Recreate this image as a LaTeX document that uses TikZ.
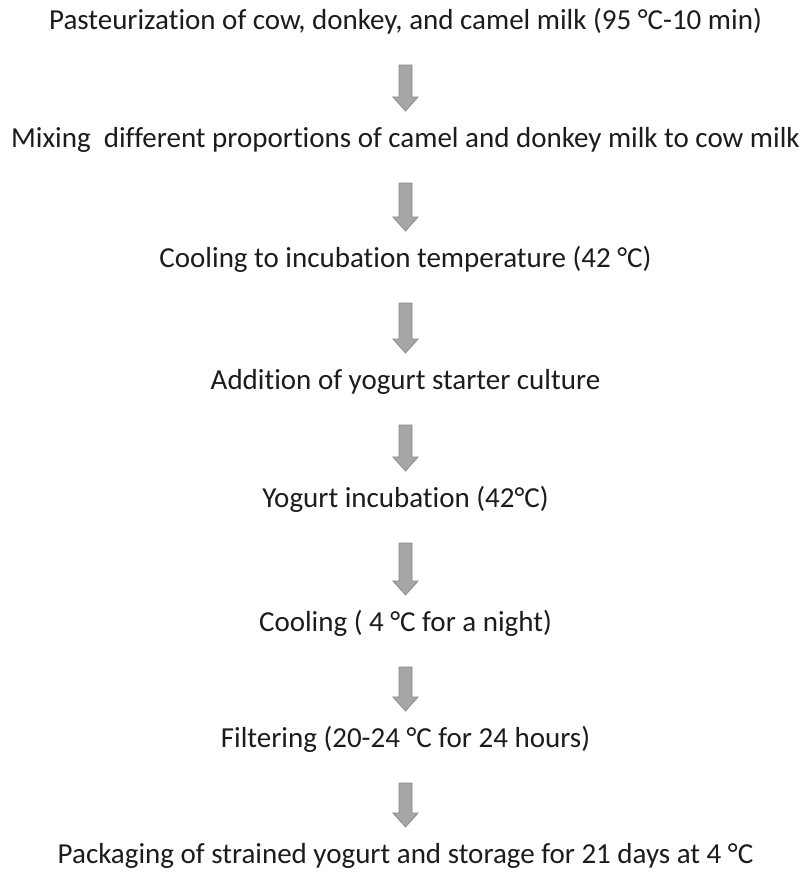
\documentclass[tikz,border=0pt]{standalone}
\usepackage{fontspec}
\setmainfont[RawFeature={-liga;-dlig;-clig}]{Carlito}
\usetikzlibrary{calc}
\definecolor{txt}{HTML}{1C1C1C}
\definecolor{arrfill}{HTML}{A6A6A6}
\definecolor{arrline}{HTML}{8A8A8A}
\tikzset{
  steptext/.style={font=\fontsize{29pt}{33pt}\selectfont, text=txt, inner sep=0pt,
    text height=0.72em, text depth=0.22em, anchor=center},
  fatarrow/.style={fill=arrfill, draw=arrline, line width=0.8pt, line join=miter,
    to path={let \p1=(\tikztostart.center), \p2=(\tikztotarget.center) in
      (\x1-6.5pt,\y1-38pt) -- (\x1+6.5pt,\y1-38pt) -- (\x1+6.5pt,\y2+48pt)
      -- (\x1+12.5pt,\y2+48pt) -- (\x1,\y2+34pt) -- (\x1-12.5pt,\y2+48pt)
      -- (\x1-6.5pt,\y2+48pt) -- cycle}}
}
\begin{document}
\begin{tikzpicture}[x=1pt,y=1pt]
\useasboundingbox (0,0) rectangle (811,-873);
\fill[white] (0,0) rectangle (811,-873);
\node[steptext] (t1) at (405.5,-27) {Pasteurization of cow, donkey, and camel milk (95 °C-10 min)};
\node[steptext] (t2) at (405.5,-145) {Mixing\ \ different proportions of camel and donkey milk to cow milk};
\node[steptext] (t3) at (405.5,-265) {Cooling to incubation temperature (42 °C)};
\node[steptext] (t4) at (405.5,-387) {Addition of yogurt starter culture};
\node[steptext] (t5) at (405.5,-505) {Yogurt incubation (42°C)};
\node[steptext] (t6) at (405.5,-629) {Cooling ( 4 °C for a night)};
\node[steptext] (t7) at (405.5,-745) {Filtering (20-24 °C for 24 hours)};
\node[steptext] (t8) at (405.5,-861) {Packaging of strained yogurt and storage for 21 days at 4 °C};
\draw[fatarrow] (t1) to (t2);
\draw[fatarrow] (t2) to (t3);
\draw[fatarrow] (t3) to (t4);
\draw[fatarrow] (t4) to (t5);
\draw[fatarrow] (t5) to (t6);
\draw[fatarrow] (t6) to (t7);
\draw[fatarrow] (t7) to (t8);
\end{tikzpicture}
\end{document}
